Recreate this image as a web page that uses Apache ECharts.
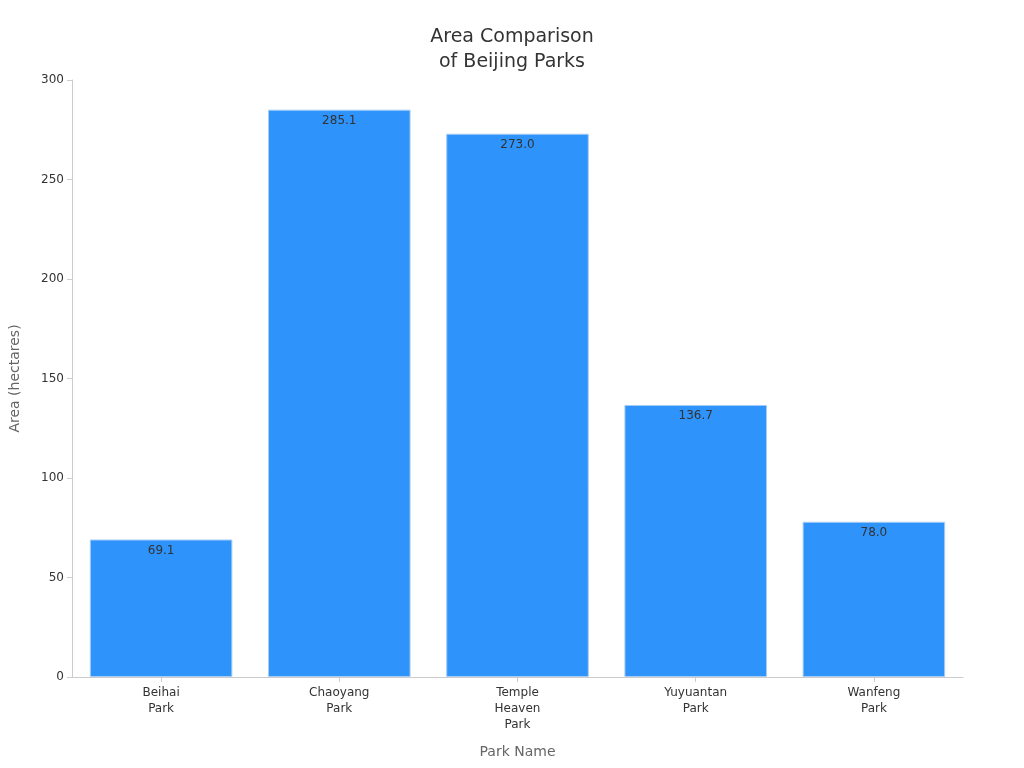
<!DOCTYPE html>
<html><head><meta charset="utf-8">
<script src="https://cdn.jsdelivr.net/npm/echarts@6/dist/echarts.min.js"></script>
<style>html,body{margin:0;padding:0;background:#fff}#c{width:1024px;height:768px}</style>
</head><body><div id="c"></div>
<script>
const categories = ["Beihai\nPark","Chaoyang\nPark","Temple\nHeaven\nPark","Yuyuantan\nPark","Wanfeng\nPark"];
const areas = [69.1, 285.1, 273.0, 136.7, 78.0];
const chart = echarts.init(document.getElementById('c'));
chart.setOption({
  textStyle:{fontFamily:'DejaVu Sans'},
  title:{text:'Area Comparison\nof Beijing Parks',left:'center',top:20,
    textStyle:{fontSize:19,fontWeight:'normal',color:'#333',lineHeight:25,fontFamily:'DejaVu Sans'}},
  grid:{left:68,right:61,top:80,bottom:91},
  xAxis:{type:'category',data:categories,name:'Park Name',nameLocation:'middle',nameGap:68,
    nameTextStyle:{fontSize:14,color:'#666'},
    axisLine:{lineStyle:{color:'#ccc'}},axisTick:{show:true,alignWithLabel:true,lineStyle:{color:'#ccc'}},
    axisLabel:{fontSize:12,color:'#333',lineHeight:16,interval:0}},
  yAxis:{type:'value',min:0,max:300,interval:50,name:'Area (hectares)',nameLocation:'middle',nameGap:50,
    nameTextStyle:{fontSize:14,color:'#666'},
    axisLine:{show:true,lineStyle:{color:'#ccc'}},axisTick:{show:true,lineStyle:{color:'#ccc'}},
    splitLine:{show:false},axisLabel:{fontSize:12,color:'#333'}},
  series:[{type:'bar',data:areas,barCategoryGap:'20%',
    itemStyle:{color:'#2e93fa',borderColor:'#a8cdf5',borderWidth:1},
    label:{show:true,position:'insideTop',color:'#333',fontSize:12,formatter:p=>p.value.toFixed(1)}}]
});
</script></body></html>
